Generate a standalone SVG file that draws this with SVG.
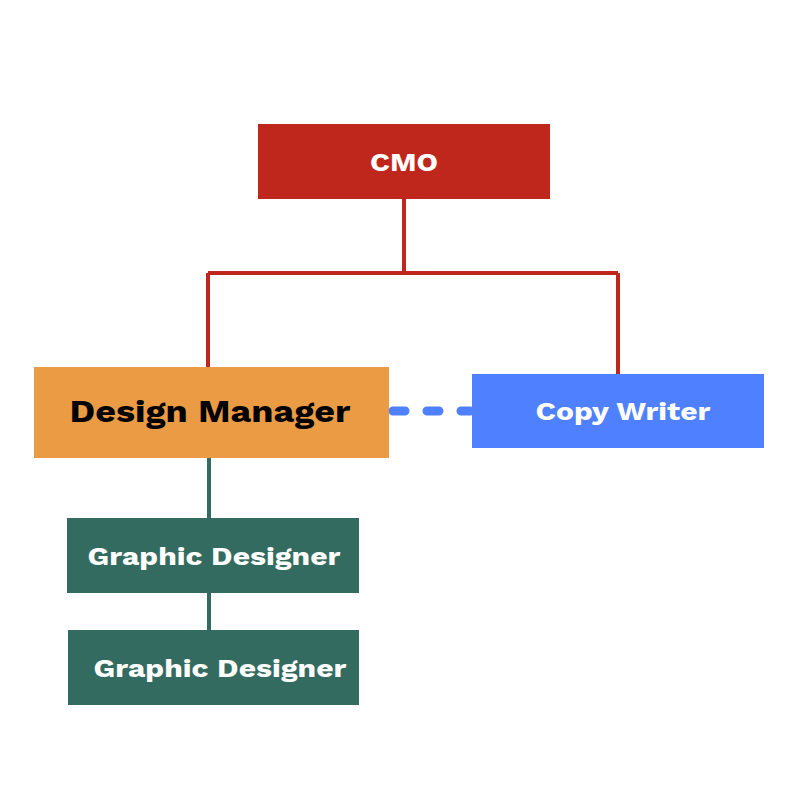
<svg xmlns="http://www.w3.org/2000/svg" width="800" height="800" viewBox="0 0 800 800">
<style>
.lbl{font-family:"Work Sans","Inter","Liberation Sans",sans-serif;font-weight:700;fill:#fff;text-anchor:middle;dominant-baseline:central}
.red{stroke:#BF271D;stroke-width:4;fill:none}
.grn{stroke:#346B60;stroke-width:4;fill:none}
</style>
<rect width="800" height="800" fill="#fff"/>
<g id="connectors">
<path class="red" d="M404 199V273M208 273H618M208 273V367M618 273V374"/>
<path class="grn" d="M209 458V518M209 593V630"/>
<line x1="393" y1="411" x2="470" y2="411" stroke="#4F80FF" stroke-width="9" stroke-linecap="round" stroke-dasharray="12 22"/>
</g>
<g id="cmo"><rect x="258" y="124" width="292" height="75" fill="#BF271D"/><text class="lbl" x="404" y="162" font-size="26" textLength="68" lengthAdjust="spacingAndGlyphs">CMO</text></g>
<g id="design-manager"><rect x="34" y="367" width="355" height="91" fill="#EA9B43"/><text class="lbl" x="210" y="411" font-size="32" style="fill:#000" textLength="281" lengthAdjust="spacingAndGlyphs">Design Manager</text></g>
<g id="copy-writer"><rect x="472" y="374" width="292" height="74" fill="#4F80FF"/><text class="lbl" x="623" y="411" font-size="26" textLength="175" lengthAdjust="spacingAndGlyphs">Copy Writer</text></g>
<g id="graphic-designer-1"><rect x="67" y="518" width="292" height="75" fill="#346B60"/><text class="lbl" x="214" y="556" font-size="26" textLength="253" lengthAdjust="spacingAndGlyphs">Graphic Designer</text></g>
<g id="graphic-designer-2"><rect x="68" y="630" width="291" height="75" fill="#346B60"/><text class="lbl" x="220" y="668" font-size="26" textLength="253" lengthAdjust="spacingAndGlyphs">Graphic Designer</text></g>
</svg>
